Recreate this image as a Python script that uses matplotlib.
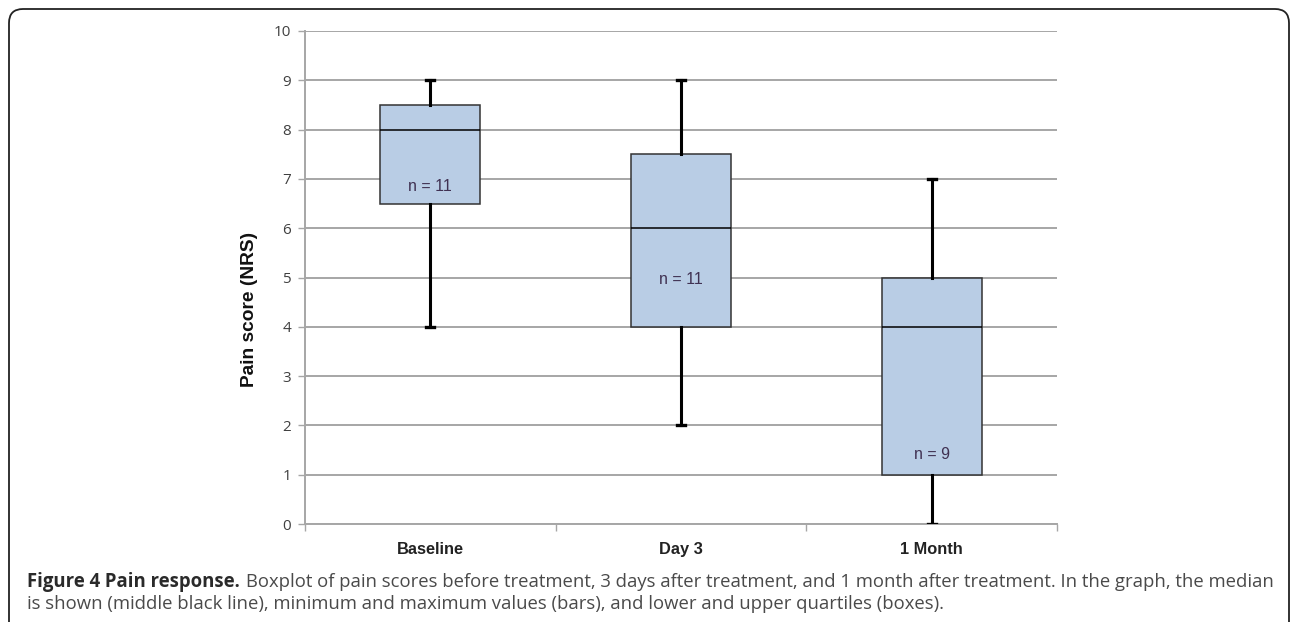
import matplotlib
matplotlib.use("Agg")
import matplotlib.pyplot as plt
from matplotlib.patches import FancyBboxPatch
from matplotlib.transforms import IdentityTransform

# Pain scores (NRS) per time point
categories = ["Baseline", "Day 3", "1 Month"]
minimum = [4, 2, 0]
lower_quartile = [6.5, 4, 1]
median = [8, 6, 4]
upper_quartile = [8.5, 7.5, 5]
maximum = [9, 9, 7]
n_labels = ["n = 11", "n = 11", "n = 9"]
n_label_y = [6.85, 4.95, 1.4]

W, H, DPI = 1292, 622, 100
fig = plt.figure(figsize=(W / DPI, H / DPI), dpi=DPI)
fig.patch.set_facecolor("white")

# rounded frame around figure + caption
frame = FancyBboxPatch((9, -60), 1280, 613 + 60,
                       boxstyle="round,pad=0,rounding_size=14",
                       transform=IdentityTransform(), facecolor="none",
                       edgecolor="#222222", linewidth=1.3, zorder=0)
fig.patches.append(frame)

ax = fig.add_axes([305 / W, 1 - 524 / H, (1057 - 305) / W, (524 - 31) / H])

stats = []
for i, c in enumerate(categories):
    stats.append(dict(label=c, whislo=minimum[i], q1=lower_quartile[i],
                      med=median[i], q3=upper_quartile[i], whishi=maximum[i],
                      fliers=[]))

positions = [i + 0.5 for i in range(len(categories))]
ax.bxp(stats, positions=positions, widths=0.4, capwidths=0.032,
       patch_artist=True, showfliers=False, manage_ticks=False,
       boxprops=dict(facecolor="#b9cde5", edgecolor="#333333", linewidth=1.1),
       medianprops=dict(color="black", linewidth=1.1),
       whiskerprops=dict(color="black", linewidth=2.2),
       capprops=dict(color="black", linewidth=2.4),
       zorder=3)

for x, y, t in zip(positions, n_label_y, n_labels):
    ax.text(x, y, t, ha="center", va="center", fontsize=11.5,
            family="Liberation Sans", color="#403152", zorder=4)

ax.set_xlim(0, len(categories))
ax.set_ylim(0, 10)
ax.set_yticks(range(0, 11))
ax.yaxis.grid(True, color="#a6a6a6", linewidth=1.4, zorder=0)
ax.set_axisbelow(True)

# category boundaries carry the x tick marks; names sit centred between them
ax.set_xticks(range(0, len(categories) + 1))
ax.set_xticklabels([])
ax.set_xticks(positions, minor=True)
ax.set_xticklabels(categories, minor=True, fontsize=11.8, fontweight="bold",
                   family="Liberation Sans", color="#222222")
ax.tick_params(axis="x", which="minor", length=0, pad=13)
ax.tick_params(axis="x", which="major", length=5, width=1, color="#a6a6a6",
               direction="out")
ax.tick_params(axis="y", length=5, width=1, color="#a6a6a6", pad=5,
               labelsize=11, labelcolor="#404040")
for lab in ax.get_yticklabels():
    lab.set_family("Open Sans")

for s in ["top", "right"]:
    ax.spines[s].set_visible(False)
for s in ["left", "bottom"]:
    ax.spines[s].set_color("#a6a6a6")
    ax.spines[s].set_linewidth(1.4)

ax.set_ylabel("Pain score (NRS)", fontsize=13.8, fontweight="bold",
              family="Liberation Sans", color="#111111")
ax.yaxis.set_label_coords((258 - 305) / (1057 - 305), (524 - 309) / 493)

# caption under the chart
cap_size = 13.35
renderer = fig.canvas.get_renderer()
t1 = fig.text(27 / W, 1 - 582 / H, "Figure 4 Pain response.", fontsize=cap_size,
              fontweight="bold", family="Open Sans", color="#2a2a2a",
              va="center", ha="left")
bb = t1.get_window_extent(renderer=renderer)
fig.text((bb.x1 + 6) / W, 1 - 582 / H,
         "Boxplot of pain scores before treatment, 3 days after treatment, "
         "and 1 month after treatment. In the graph, the median",
         fontsize=cap_size, family="Open Sans", color="#4a4a4a",
         va="center", ha="left")
fig.text(27 / W, 1 - 604 / H,
         "is shown (middle black line), minimum and maximum values (bars), "
         "and lower and upper quartiles (boxes).",
         fontsize=cap_size, family="Open Sans", color="#4a4a4a",
         va="center", ha="left")

fig.savefig("out.png", dpi=DPI, facecolor="white")
